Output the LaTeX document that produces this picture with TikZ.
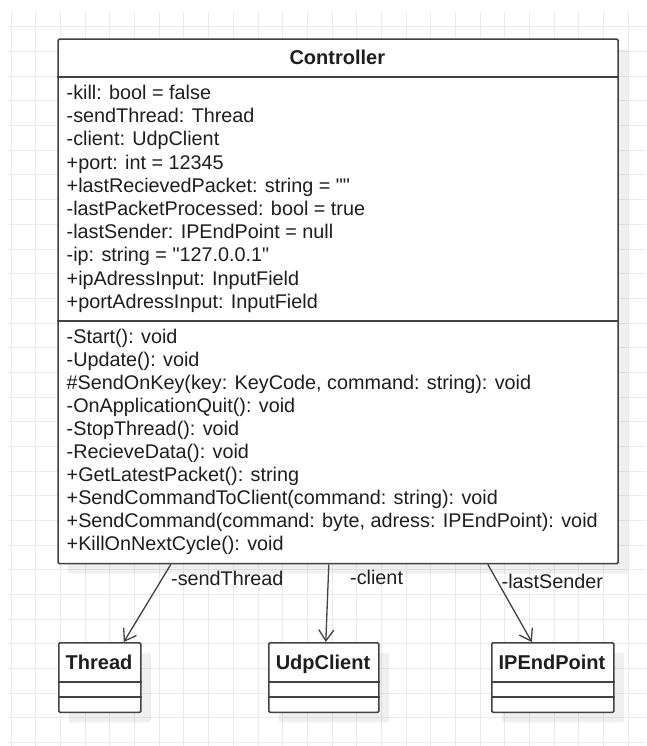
\documentclass[tikz,border=0pt]{standalone}
\usepackage{fontspec}
\setmainfont{Liberation Sans}[Ligatures=TeXOff]
\usetikzlibrary{arrows.meta,shadows}
\definecolor{gridc}{HTML}{EBEBEB}
\definecolor{edge}{HTML}{424242}
\definecolor{ink}{HTML}{1E1E1E}
\tikzset{
  umlbox/.style={draw=edge, line width=1.6pt, fill=white, rounded corners=1.2pt,
    anchor=north west, inner sep=0pt,
    drop shadow={shadow xshift=10pt, shadow yshift=-10pt, fill=black, opacity=0.06}},
  compartment/.style={draw=edge, line width=1.6pt},
  member/.style={anchor=base west, inner sep=0pt, text=ink, font=\fontsize{19.8}{23}\selectfont},
  classname/.style={anchor=base, inner sep=0pt, text=ink, font=\bfseries\fontsize{20}{23}\selectfont},
  role/.style={anchor=base west, inner sep=0pt, text=ink, font=\fontsize{19.8}{23}\selectfont},
  assoc/.style={draw=edge, line width=1.3pt, -{Straight Barb[length=11pt,width=15pt]}},
}
\begin{document}
\begin{tikzpicture}[x=1pt, y=-1pt]
  \useasboundingbox (0,0) rectangle (646,746);
  \fill[white] (0,0) rectangle (646,746);

  % background grid
  \begin{scope}
    \clip (8.3,11.7) rectangle (646,746);
    \foreach \i in {0,...,25}
      \draw[gridc, line width=1pt] ({11.3+24.67*\i},11.7) -- ++(0,735);
    \foreach \j in {1,...,30}
      \draw[gridc, line width=1pt] (8.3,{2.3+24.67*\j}) -- ++(640,0);
  \end{scope}

  % Controller class
  \node[umlbox, minimum width=560pt, minimum height=524.5pt] (ctrl) at (57.3,38.3) {};
  \draw[compartment] ([yshift=-38.7pt]ctrl.north west) -- ([yshift=-38.7pt]ctrl.north east);
  \draw[compartment] ([yshift=-282.4pt]ctrl.north west) -- ([yshift=-282.4pt]ctrl.north east);
  \node[classname] (ctrlname) at (337.3,64.5) {Controller};

  \foreach \t [count=\i from 0] in {
      {-kill: bool = false},
      {-sendThread: Thread},
      {-client: UdpClient},
      {+port: int = 12345},
      {+lastRecievedPacket: string = ""},
      {-lastPacketProcessed: bool = true},
      {-lastSender: IPEndPoint = null},
      {-ip: string = "127.0.0.1"},
      {+ipAdressInput: InputField},
      {+portAdressInput: InputField}}
    \node[member] (attr\i) at (66.5,{99.5+23.2*\i}) {\t};

  \foreach \t [count=\i from 0] in {
      {-Start(): void},
      {-Update(): void},
      {\#SendOnKey(key: KeyCode, command: string): void},
      {-OnApplicationQuit(): void},
      {-StopThread(): void},
      {-RecieveData(): void},
      {+GetLatestPacket(): string},
      {+SendCommandToClient(command: string): void},
      {+SendCommand(command: byte, adress: IPEndPoint): void},
      {+KillOnNextCycle(): void}}
    \node[member] (op\i) at (66.5,{343.3+23.0*\i}) {\t};

  % referenced classes
  \node[umlbox, minimum width=82pt, minimum height=69.5pt] (thread) at (58,642) {};
  \node[umlbox, minimum width=110pt, minimum height=69.5pt] (udp) at (268,642) {};
  \node[umlbox, minimum width=122pt, minimum height=69.5pt] (ipep) at (491,642) {};
  \foreach \b in {thread,udp,ipep} {
    \draw[compartment] ([yshift=-40pt]\b.north west) -- ([yshift=-40pt]\b.north east);
    \draw[compartment] ([yshift=-55pt]\b.north west) -- ([yshift=-55pt]\b.north east);
  }
  \node[classname] (threadname) at (99,669) {Thread};
  \node[classname] (udpname) at (323,669) {UdpClient};
  \node[classname] (ipepname) at (552,669) {IPEndPoint};

  % associations
  \draw[assoc] ([xshift=-167.3pt]ctrl.south) -- ([xshift=24pt]thread.north);
  \draw[assoc] ([xshift=-9.3pt]ctrl.south) -- ([xshift=2pt]udp.north);
  \draw[assoc] ([xshift=149.7pt]ctrl.south) -- ([xshift=-21pt]ipep.north);
  \node[role] (r1) at (171,585) {-sendThread};
  \node[role] (r2) at (350,584) {-client};
  \node[role] (r3) at (501.5,588) {-lastSender};
\end{tikzpicture}
\end{document}
